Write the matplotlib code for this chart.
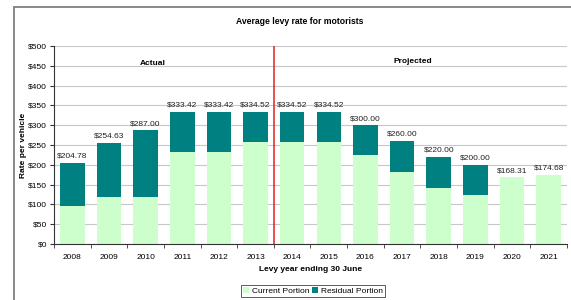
import numpy as np
import matplotlib
matplotlib.use("Agg")
import matplotlib.pyplot as plt
from matplotlib.patches import Rectangle

plt.rcParams["font.family"] = ["Liberation Sans", "DejaVu Sans"]

years = ["2008", "2009", "2010", "2011", "2012", "2013", "2014",
         "2015", "2016", "2017", "2018", "2019", "2020", "2021"]
totals = [204.78, 254.63, 287.00, 333.42, 333.42, 334.52, 334.52,
          334.52, 300.00, 260.00, 220.00, 200.00, 168.31, 174.68]
current = [95, 118, 118, 233, 233, 257, 257, 257, 224, 181, 141, 123, 168.31, 174.68]
residual = [t - c for t, c in zip(totals, current)]
labels = [f"${t:.2f}" for t in totals]

GREEN = "#ccffcc"
TEAL = "#008080"
FS = 6.0

fig = plt.figure(figsize=(5.71, 3.0), dpi=100)
# chart frame, running off the right and bottom edges like the source image
fig.patches.append(Rectangle((14 / 571, -0.02), 0.99, (300 - 7) / 300 + 0.02,
                             transform=fig.transFigure, fill=False, ec="#808080", lw=1.3))

ax = fig.add_axes([54 / 571, 56 / 300, 513 / 571, 198 / 300])
x = np.arange(len(years))
ax.bar(x, current, width=0.67, color=GREEN, label="Current Portion", zorder=2)
ax.bar(x, residual, width=0.67, bottom=current, color=TEAL, label="Residual Portion", zorder=2)
for xi, t, lab in zip(x, totals, labels):
    ax.text(xi, t + 8, lab, ha="center", va="bottom", fontsize=FS, color="#222222")

ax.axvline(5.5, color="#e02020", lw=1.1, zorder=3)
ax.set_xlim(-0.5, len(years) - 0.5)
ax.set_ylim(0, 500)
ax.set_yticks(np.arange(0, 501, 50))
ax.set_yticklabels([f"${v}" for v in range(0, 501, 50)], fontsize=FS)
ax.set_xticks(x)
ax.set_xticklabels(years, fontsize=FS)
ax.set_xticks(np.arange(-0.5, len(years), 1), minor=True)
ax.tick_params(axis="x", which="major", length=0, pad=7)
ax.tick_params(axis="x", which="minor", length=3, color="#333333")
ax.tick_params(axis="y", length=3, pad=2, color="#333333")
ax.yaxis.grid(True, color="#c8c8c8", lw=0.8, zorder=0)
for s in ("top", "right"):
    ax.spines[s].set_visible(False)
ax.spines["left"].set_color("#333333")
ax.spines["bottom"].set_color("#333333")

ax.text(2.2, 455, "Actual", fontsize=FS, fontweight="bold", ha="center", va="center")
ax.text(9.3, 460, "Projected", fontsize=FS, fontweight="bold", ha="center", va="center")

fig.text(300 / 571, 1 - 21 / 300, "Average levy rate for motorists", fontsize=FS + 0.2,
         fontweight="bold", ha="center", va="center")
ax.set_ylabel("Rate per vehicle", fontsize=FS, fontweight="bold", labelpad=1)
ax.set_xlabel("Levy year ending 30 June", fontsize=FS, fontweight="bold", labelpad=4)

leg = fig.legend(loc="center", bbox_to_anchor=(313 / 571, 1 - 291 / 300), ncol=2,
                 fontsize=FS, frameon=True, fancybox=False, edgecolor="#333333",
                 handlelength=0.7, handleheight=0.7, handletextpad=0.3, columnspacing=0.4,
                 borderpad=0.3)
leg.get_frame().set_linewidth(0.7)

fig.savefig("out.png", dpi=100)
